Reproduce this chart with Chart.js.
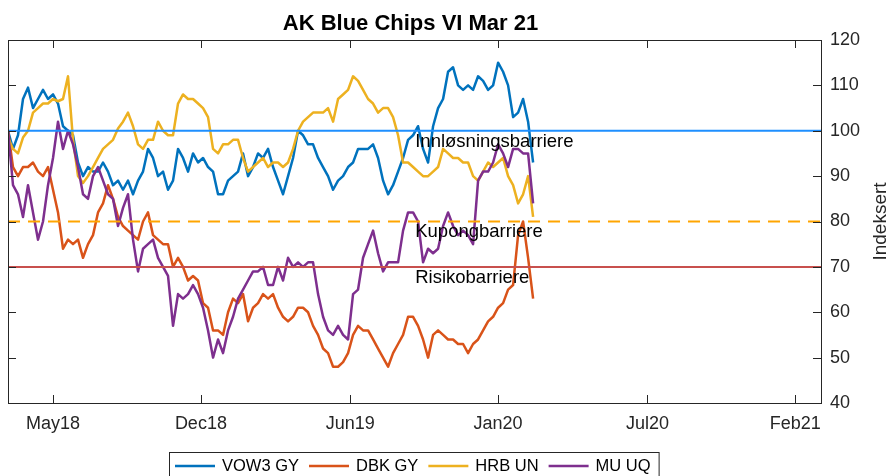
<!DOCTYPE html>
<html>
<head>
<meta charset="utf-8">
<script src="https://cdn.jsdelivr.net/npm/chart.js@4.4.1/dist/chart.umd.min.js"></script>
<style>
  html, body { margin: 0; padding: 0; background: #fff; }
  #wrap { width: 889px; height: 476px; position: relative; overflow: hidden; }
</style>
</head>
<body>
<div id="wrap"><canvas id="chart" width="889" height="476"></canvas></div>
<script>
// ── DATA ─────────────────────────────────────────────────────────────────────
// one sample per week, indexed to 100 at start
const STEP_DAYS = 7;

const VOW3 = [
  100, 96, 99, 107, 109.5, 105, 107, 109, 107, 108, 106, 101, 100, 99, 93, 90, 92, 91, 91, 93, 91, 88, 89, 87, 89, 86, 89,
  91, 96, 94, 90, 91, 87, 89, 96, 94, 91, 95, 93, 94, 92, 91, 86, 86, 89, 90, 91, 95, 90, 92, 95, 94, 96, 92,
  89, 86, 90, 94, 100, 99, 97, 97, 94, 92, 90, 87, 89, 90, 92, 93, 96, 96, 96, 97, 94, 89, 86, 88, 91, 94, 98,
  99, 101, 96, 93, 101, 105, 107, 113, 114, 110, 109, 110, 109, 112, 111, 109, 110, 115, 113, 110, 103, 104, 107, 102, 93
];
const DBK = [
  100, 92, 90, 92, 92, 93, 91, 90, 92, 87, 82, 74, 76, 75, 76, 72, 75, 77, 82, 84, 88, 85, 81, 79, 78, 77, 76,
  80, 82, 77, 76, 75, 75, 70, 72, 70, 67, 68, 67, 62, 61, 56, 56, 55, 60, 63, 62, 64, 58, 61, 62, 64, 63, 64,
  61, 59, 58, 59, 61, 61, 60, 57, 55, 52, 51, 48, 48, 49, 51, 55, 57, 56, 56, 54, 52, 50, 48, 51, 53, 55, 59,
  59, 57, 54, 50, 55, 56, 55, 54, 54, 53, 53, 51, 53, 54, 56, 58, 59, 61, 62, 65, 66, 77, 80, 72, 63
];
const HRB = [
  98.5, 96, 95, 98.5, 100, 104, 105, 106, 106, 107, 106.5, 107, 112, 98, 90, 88.5, 90, 92, 94, 96, 97, 98, 100.5, 102, 104, 101, 97,
  96, 98, 98, 102, 100, 99, 99, 106, 108, 107, 107, 106, 105, 103, 96, 95, 97, 97, 98, 98, 94, 91, 92, 93, 94, 92, 93,
  93, 92, 93, 96, 100, 102, 103, 104, 104, 104, 105, 102, 107, 108, 109, 112, 111, 109, 107, 106, 104, 105, 105, 103, 99, 93, 93,
  92, 91, 90, 90, 91, 92, 96, 95, 94, 94, 93, 93, 90, 89, 91, 93, 92, 93, 94, 90, 88, 84, 86, 90, 81
];
const MU = [
  100, 88, 86, 81, 88, 82, 76, 80, 88, 94, 102, 96, 100, 97, 92, 86, 85, 90, 92, 89, 86, 85, 79, 83, 86, 76, 69,
  74, 75, 76, 72, 70, 68, 57, 64, 63, 64, 66, 64, 61, 56, 50, 54, 51, 56, 59, 63, 65, 67, 69, 69, 70, 66, 66,
  70, 67, 72, 70, 71, 70, 71, 71, 64, 59, 56, 55, 57, 55, 54, 64, 65, 72, 75, 78, 73, 69, 71, 71, 71, 78, 82,
  82, 80, 71, 74, 73, 74, 79, 82, 79, 77, 78, 77, 75, 89, 91, 91, 93, 97, 95, 92, 96, 96, 95, 95, 84
];

const SERIES        = [VOW3, DBK, HRB, MU];
const SERIES_NAMES  = ['VOW3 GY', 'DBK GY', 'HRB UN', 'MU UQ'];
const SERIES_COLORS = ['#0072bd', '#d95319', '#edb120', '#7e2f8e'];

const BARRIER_LEVELS = [100, 80, 70];
const BARRIER_NAMES  = ['Innløsningsbarriere', 'Kupongbarriere', 'Risikobarriere'];
const BARRIER_COLORS = ['#1e8fff', '#ffa500', '#c8504d'];
const BARRIER_DASH   = [[], [12, 8], []];
const LABEL_X = 570;   // day where the barrier names start

const X_MAX = 1138;
const X_TICKS       = [63, 270, 479, 686, 895, 1102];
const X_TICK_LABELS = ['May18', 'Dec18', 'Jun19', 'Jan20', 'Jul20', 'Feb21'];
const Y_MIN = 40, Y_MAX = 120, Y_STEP = 10;

const TITLE  = 'AK Blue Chips VI Mar 21';
const Y_NAME = 'Indeksert';

// ── STYLE ────────────────────────────────────────────────────────────────────
const FONT = '"Liberation Sans", Arial, Helvetica, sans-serif';
const AXIS = '#262626';

// ── DATASETS ─────────────────────────────────────────────────────────────────
const datasets = SERIES.map((vals, i) => ({
  label: SERIES_NAMES[i],
  data: vals.map((v, j) => ({ x: j * STEP_DAYS, y: v })),
  borderColor: SERIES_COLORS[i],
  borderWidth: 2.5,
  borderJoinStyle: 'round',
  pointRadius: 0,
  tension: 0,
  order: 10 - i
}));
BARRIER_LEVELS.forEach((lvl, i) => {
  datasets.push({
    label: BARRIER_NAMES[i],
    data: [{ x: 0, y: lvl }, { x: X_MAX, y: lvl }],
    borderColor: BARRIER_COLORS[i],
    borderWidth: 2,
    borderDash: BARRIER_DASH[i],
    pointRadius: 0,
    order: 0,
    isBarrier: true
  });
});

// ── FRAME, TICKS, TEXT, LEGEND ───────────────────────────────────────────────
const framePlugin = {
  id: 'frame',
  afterDraw(chart) {
    const { ctx, chartArea: a, scales } = chart;
    const x = scales.x, y = scales.y;
    const TL = 8;
    ctx.save();
    ctx.strokeStyle = AXIS;
    ctx.lineWidth = 1;
    ctx.strokeRect(Math.round(a.left) + 0.5, Math.round(a.top) + 0.5,
                   Math.round(a.right - a.left), Math.round(a.bottom - a.top));
    ctx.beginPath();
    for (let v = Y_MIN; v <= Y_MAX; v += Y_STEP) {
      const py = Math.round(y.getPixelForValue(v)) + 0.5;
      ctx.moveTo(a.left, py);  ctx.lineTo(a.left + TL, py);
      ctx.moveTo(a.right, py); ctx.lineTo(a.right - TL, py);
    }
    X_TICKS.forEach(t => {
      const px = Math.round(x.getPixelForValue(t)) + 0.5;
      ctx.moveTo(px, a.bottom); ctx.lineTo(px, a.bottom - TL);
      ctx.moveTo(px, a.top);    ctx.lineTo(px, a.top + TL);
    });
    ctx.stroke();

    // barrier names
    ctx.fillStyle = '#000';
    ctx.font = '18.5px ' + FONT;
    ctx.textAlign = 'left';
    ctx.textBaseline = 'middle';
    BARRIER_LEVELS.forEach((lvl, i) => {
      ctx.fillText(BARRIER_NAMES[i], x.getPixelForValue(LABEL_X), y.getPixelForValue(lvl - 2.4));
    });

    // title
    ctx.font = 'bold 22px ' + FONT;
    ctx.textAlign = 'center';
    ctx.textBaseline = 'alphabetic';
    ctx.fillText(TITLE, (a.left + a.right) / 2 - 4, 30);

    // y axis name, reading upwards
    ctx.save();
    ctx.translate(881, (a.top + a.bottom) / 2);
    ctx.rotate(-Math.PI / 2);
    ctx.font = '19px ' + FONT;
    ctx.fillStyle = AXIS;
    ctx.textBaseline = 'middle';
    ctx.fillText(Y_NAME, 0, 0);
    ctx.restore();

    // legend
    ctx.font = '16.5px ' + FONT;
    ctx.textAlign = 'left';
    ctx.textBaseline = 'middle';
    const ly = 466;
    let lx = 175;
    const items = chart.data.datasets.filter(d => !d.isBarrier);
    ctx.fillStyle = '#fff';
    ctx.fillRect(169, 452, 492, 30);
    items.forEach(d => {
      ctx.strokeStyle = d.borderColor;
      ctx.lineWidth = 2.5;
      ctx.beginPath(); ctx.moveTo(lx, ly); ctx.lineTo(lx + 40, ly); ctx.stroke();
      ctx.fillStyle = '#000';
      ctx.fillText(d.label, lx + 47, ly);
      lx += 47 + ctx.measureText(d.label).width + 10;
    });
    ctx.strokeStyle = AXIS;
    ctx.lineWidth = 1;
    ctx.strokeRect(169.5, 452.5, lx - 2 - 169, 30);
    ctx.restore();
  }
};

// ── CHART ────────────────────────────────────────────────────────────────────
new Chart(document.getElementById('chart').getContext('2d'), {
  type: 'line',
  data: { datasets },
  options: {
    responsive: false,
    animation: false,
    devicePixelRatio: 1,
    layout: { padding: { left: 8, top: 40, right: 0, bottom: 0 } },
    plugins: { legend: { display: false }, title: { display: false }, tooltip: { enabled: false } },
    scales: {
      x: {
        type: 'linear', min: 0, max: X_MAX,
        afterBuildTicks: s => { s.ticks = X_TICKS.map(v => ({ value: v })); },
        afterFit: s => { s.height = 73; },
        ticks: {
          callback: (v, i) => X_TICK_LABELS[i],
          font: { size: 18, family: FONT }, color: AXIS,
          padding: 10, maxRotation: 0, autoSkip: false
        },
        grid: { display: false, drawTicks: false },
        border: { display: false }
      },
      y: {
        position: 'right', min: Y_MIN, max: Y_MAX,
        afterFit: s => { s.width = 68; },
        ticks: { stepSize: Y_STEP, font: { size: 18, family: FONT }, color: AXIS, padding: 9 },
        grid: { display: false, drawTicks: false },
        border: { display: false }
      }
    }
  },
  plugins: [framePlugin]
});
</script>
</body>
</html>
